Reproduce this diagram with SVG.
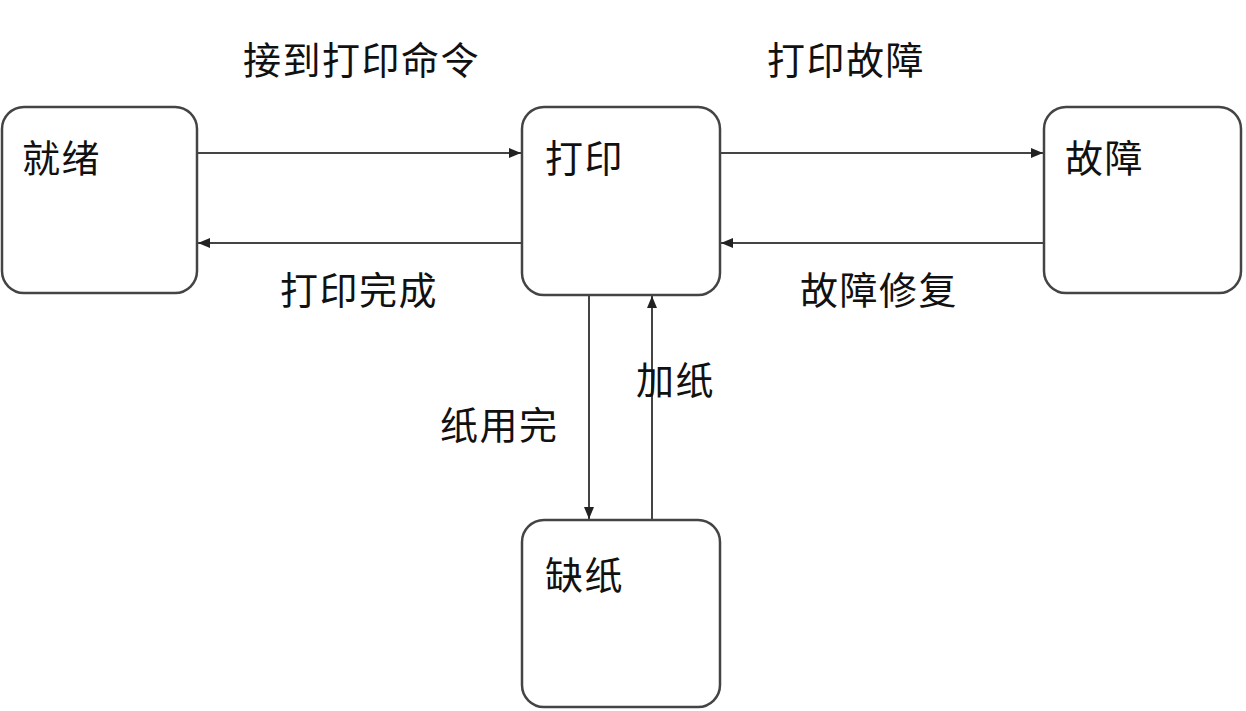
<svg xmlns="http://www.w3.org/2000/svg" width="1246" height="711" viewBox="0 0 1246 711">
<style>
.node{fill:#fff;stroke:#444;stroke-width:2.5}
.t{font-family:"Noto Sans CJK SC","Noto Sans",sans-serif;font-size:38px;letter-spacing:1.5px;fill:#111}
.c{stroke:#444;stroke-width:2;fill:none;marker-end:url(#ah)}
</style>
<defs>
<marker id="ah" viewBox="0 0 12 10" refX="12" refY="5" markerWidth="12" markerHeight="10" markerUnits="userSpaceOnUse" orient="auto">
<path d="M0,0 L12,5 L0,10 Z" fill="#222"/>
</marker>
</defs>
<rect width="1246" height="711" fill="#fff"/>
<g id="ready"><rect class="node" x="2" y="107" width="195" height="186" rx="22"/><text class="t" x="22" y="172">就绪</text></g>
<g id="printing"><rect class="node" x="522" y="107" width="198" height="188" rx="22"/><text class="t" x="545" y="172">打印</text></g>
<g id="fault"><rect class="node" x="1044" y="107" width="197" height="186" rx="22"/><text class="t" x="1065" y="172">故障</text></g>
<g id="nopaper"><rect class="node" x="522" y="520" width="198" height="187" rx="22"/><text class="t" x="545" y="589">缺纸</text></g>
<g id="connectors">
<line class="c" x1="198" y1="153" x2="521" y2="153"/>
<line class="c" x1="521" y1="243" x2="198" y2="243"/>
<line class="c" x1="721" y1="153" x2="1043" y2="153"/>
<line class="c" x1="1043" y1="243" x2="721" y2="243"/>
<line class="c" x1="589" y1="296" x2="589" y2="519"/>
<line class="c" x1="652" y1="519" x2="652" y2="296"/>
<text class="t" x="243" y="74">接到打印命令</text>
<text class="t" x="767" y="74">打印故障</text>
<text class="t" x="280" y="304">打印完成</text>
<text class="t" x="800" y="304">故障修复</text>
<text class="t" x="440" y="439">纸用完</text>
<text class="t" x="636" y="394">加纸</text>
</g>
</svg>
